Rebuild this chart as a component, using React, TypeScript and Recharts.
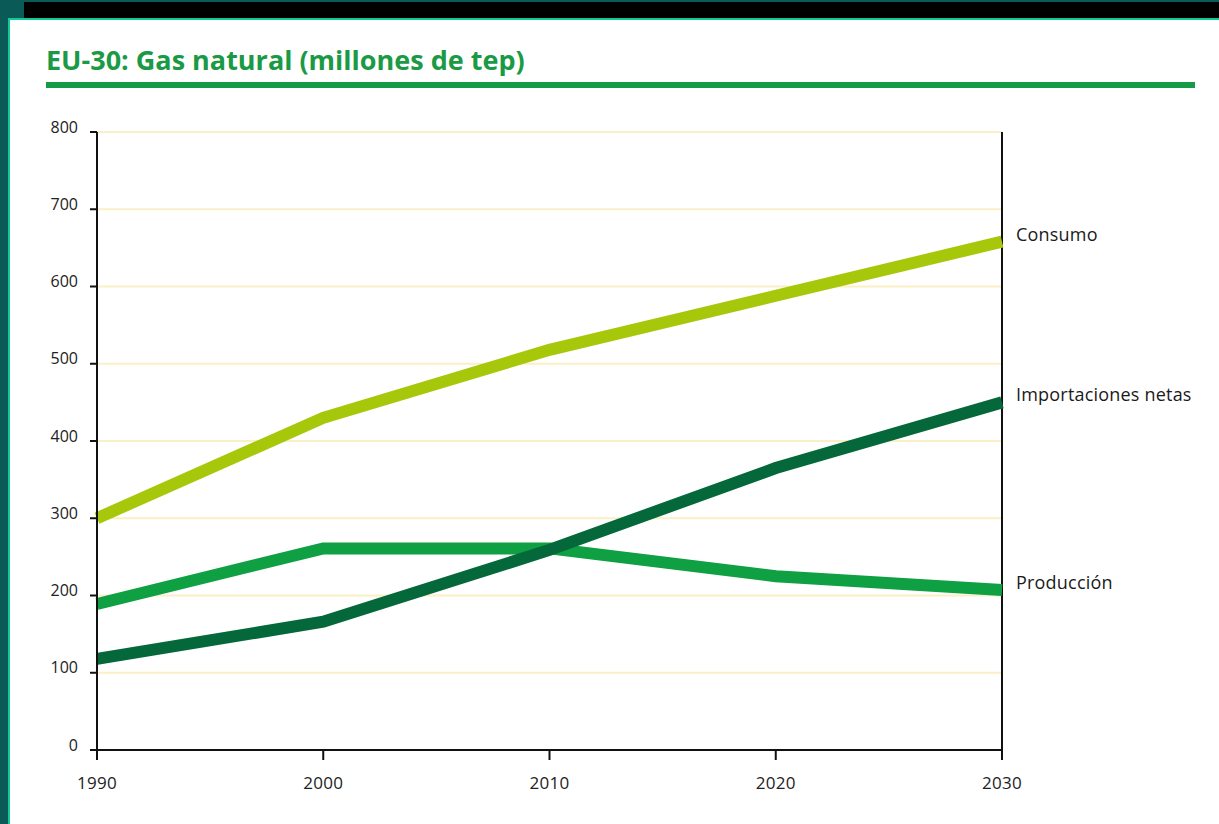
import React from "react";
import { CartesianGrid, Line, LineChart, ReferenceLine, XAxis, YAxis } from "recharts";

// años y series (millones de tep)
const years = [1990, 2000, 2010, 2020, 2030];
const consumo = [300, 430, 518, 588, 658];
const importaciones = [118, 166, 259, 365, 450];
const produccion = [189, 261, 261, 225, 207];
const yTicks = [0, 100, 200, 300, 400, 500, 600, 700, 800];

const data = years.map((year, i) => ({
  year,
  consumo: consumo[i],
  importaciones: importaciones[i],
  produccion: produccion[i],
}));

const FONT = "'Open Sans', sans-serif";

function endLabel(text: string) {
  return (props: any) => {
    const { x, y, index } = props;
    if (index !== years.length - 1) return null;
    return (
      <text
        x={x + 14}
        y={y - 8}
        dominantBaseline="central"
        fontFamily={FONT}
        fontSize={18}
        letterSpacing={0.2}
        fill="#1a1a1a"
      >
        {text}
      </text>
    );
  };
}

export default function App() {
  return (
    <div
      style={{
        position: "absolute",
        left: 0,
        top: 0,
        width: 1219,
        height: 824,
        background: "#ffffff",
        overflow: "hidden",
      }}
    >
      {/* marco */}
      <div style={{ position: "absolute", left: 0, top: 0, width: 1219, height: 19, background: "#0a5b57" }} />
      <div style={{ position: "absolute", left: 24, top: 2, width: 1195, height: 16, background: "#000" }} />
      <div style={{ position: "absolute", left: 0, top: 0, width: 8, height: 824, background: "#0a5b57" }} />
      <div style={{ position: "absolute", left: 8, top: 18, width: 1211, height: 2, background: "#12c99a" }} />
      <div style={{ position: "absolute", left: 8, top: 18, width: 2, height: 806, background: "#12c99a" }} />

      {/* título */}
      <div
        style={{
          position: "absolute",
          left: 46,
          top: 41,
          fontFamily: FONT,
          fontWeight: 700,
          fontSize: 27,
          letterSpacing: 0,
          color: "#1a9a45",
          whiteSpace: "nowrap",
        }}
      >
        EU-30: Gas natural (millones de tep)
      </div>
      <div style={{ position: "absolute", left: 46, top: 82, width: 1149, height: 6, background: "#159a48" }} />

      <div style={{ position: "absolute", left: 0, top: 0 }}>
        <LineChart
          width={1219}
          height={824}
          data={data}
          margin={{ top: 132, left: 37, right: 217, bottom: 44 }}
        >
          <CartesianGrid vertical={false} stroke="#fbefc6" strokeWidth={2} />
          <XAxis
            dataKey="year"
            type="number"
            domain={[1990, 2030]}
            ticks={years}
            height={30}
            axisLine={{ stroke: "#111", strokeWidth: 2 }}
            tickLine={{ stroke: "#111", strokeWidth: 2 }}
            tickSize={10}
            tickMargin={17}
            tick={{ fontFamily: FONT, fontSize: 17, fill: "#222", letterSpacing: 0.3 }}
          />
          <YAxis
            type="number"
            domain={[0, 800]}
            ticks={yTicks}
            width={60}
            interval={0}
            axisLine={{ stroke: "#111", strokeWidth: 2 }}
            tickLine={{ stroke: "#111", strokeWidth: 2 }}
            tickSize={7}
            tickMargin={12}
            tick={{ fontFamily: FONT, fontSize: 16, fill: "#222", letterSpacing: 0, dy: -5 }}
          />
          <ReferenceLine x={2030} stroke="#111" strokeWidth={2} />
          <Line
            type="linear"
            dataKey="consumo"
            stroke="#a6c70a"
            strokeWidth={12}
            dot={false}
            isAnimationActive={false}
            label={endLabel("Consumo")}
          />
          <Line
            type="linear"
            dataKey="produccion"
            stroke="#0ea043"
            strokeWidth={12}
            dot={false}
            isAnimationActive={false}
            label={endLabel("Producción")}
          />
          <Line
            type="linear"
            dataKey="importaciones"
            stroke="#05683a"
            strokeWidth={12}
            dot={false}
            isAnimationActive={false}
            label={endLabel("Importaciones netas")}
          />
        </LineChart>
      </div>
    </div>
  );
}
